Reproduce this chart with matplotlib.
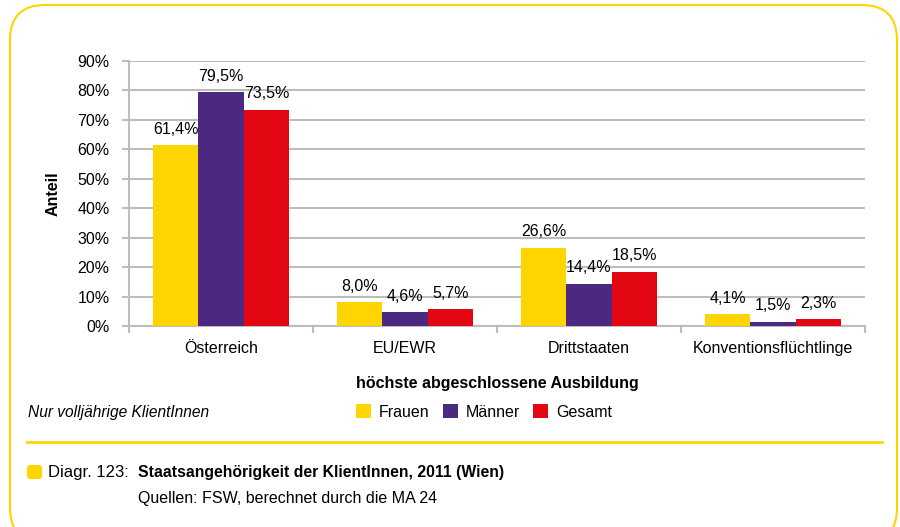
import matplotlib
matplotlib.use('Agg')
import matplotlib.pyplot as plt
import numpy as np
from matplotlib.patches import FancyBboxPatch, Patch
from matplotlib.transforms import IdentityTransform

plt.rcParams['font.family'] = ['Liberation Sans', 'DejaVu Sans']

categories = ['Österreich', 'EU/EWR', 'Drittstaaten', 'Konventionsflüchtlinge']
series = ['Frauen', 'Männer', 'Gesamt']
frauen = [61.4, 8.0, 26.6, 4.1]
maenner = [79.5, 4.6, 14.4, 1.5]
gesamt = [73.5, 5.7, 18.5, 2.3]
colors = ['#FFD500', '#4B2980', '#E30613']
yticks = [0, 10, 20, 30, 40, 50, 60, 70, 80, 90]

fs = 11.5
fig = plt.figure(figsize=(9, 5.27), dpi=100)
ax = fig.add_axes([0.1433, 0.3814, 0.8178, 0.503])

x = np.arange(len(categories))
w = 0.247
for i, (vals, col) in enumerate(zip([frauen, maenner, gesamt], colors)):
    pos = x + (i - 1) * w
    ax.bar(pos, vals, w, color=col, zorder=3)
    for p, v in zip(pos, vals):
        ax.annotate(f'{v:.1f}%'.replace('.', ','), (p, v), xytext=(0, 6),
                    textcoords='offset points', ha='center', va='bottom',
                    fontsize=fs)

ax.set_xlim(-0.5, len(categories) - 0.5)
ax.set_ylim(0, 90)
ax.set_yticks(yticks)
ax.set_yticklabels([f'{t}%' for t in yticks], fontsize=fs)
ax.yaxis.grid(True, color='#BDBDBD', linewidth=1.5, zorder=0)
ax.set_axisbelow(True)
for s in ['top', 'right']:
    ax.spines[s].set_visible(False)
for s in ['left', 'bottom']:
    ax.spines[s].set_color('#BDBDBD')
    ax.spines[s].set_linewidth(1.5)
ax.tick_params(axis='y', colors='#BDBDBD', labelcolor='black', length=5, width=1.5, pad=9)
ax.set_xticks(np.arange(-0.5, len(categories)), minor=False)
ax.set_xticklabels([])
ax.set_xticks(x, minor=True)
ax.set_xticklabels(categories, minor=True, fontsize=fs)
ax.tick_params(axis='x', which='major', colors='#BDBDBD', length=5, width=1.5)
ax.tick_params(axis='x', which='minor', length=0, pad=11)

ax.set_ylabel('Anteil', fontsize=fs, fontweight='bold', labelpad=12)
ax.set_xlabel('höchste abgeschlossene Ausbildung', fontsize=fs, fontweight='bold', labelpad=14)

fig.text(28 / 900, 1 - 413 / 527, 'Nur volljährige KlientInnen', fontsize=11.2,
         style='italic', va='center')
handles = [Patch(facecolor=c, label=s) for c, s in zip(colors, series)]
fig.legend(handles=handles, ncol=3, loc='center left',
           bbox_to_anchor=(356 / 900, 1 - 412 / 527), frameon=False,
           fontsize=fs, handlelength=0.95, handleheight=0.95,
           handletextpad=0.5, columnspacing=0.8, borderpad=0, borderaxespad=0)

fig.add_artist(plt.Line2D([27 / 900, 882 / 900], [1 - 442 / 527] * 2,
                          color='#FFD500', linewidth=2))

fig.add_artist(FancyBboxPatch((27, 527 - 479), 15, 14, boxstyle='round,pad=0,rounding_size=3',
                              transform=IdentityTransform(), facecolor='#FFD500',
                              edgecolor='none'))
fig.text(48 / 900, 1 - 473 / 527, 'Diagr. 123:', fontsize=12, va='center')
fig.text(138 / 900, 1 - 473 / 527, 'Staatsangehörigkeit der KlientInnen, 2011 (Wien)',
         fontsize=11.3, fontweight='bold', va='center')
fig.text(138 / 900, 1 - 498 / 527, 'Quellen: FSW, berechnet durch die MA 24',
         fontsize=fs, va='center')

fig.add_artist(FancyBboxPatch((10, -16), 887, 538, boxstyle='round,pad=0,rounding_size=35',
                              transform=IdentityTransform(), facecolor='none',
                              edgecolor='#FFD500', linewidth=1.5))

fig.savefig('out.png', dpi=100)
